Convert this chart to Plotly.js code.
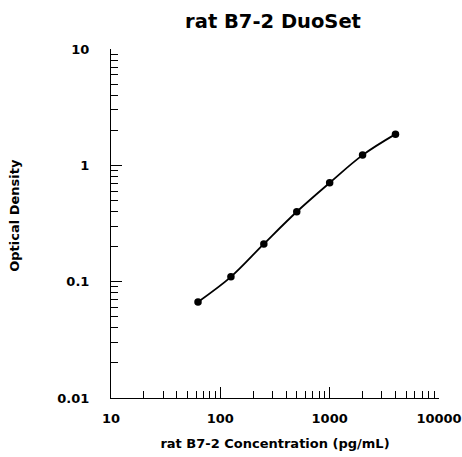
<!DOCTYPE html>
<html>
<head>
<meta charset="utf-8">
<script src="https://cdn.plot.ly/plotly-3.0.1.min.js"></script>
<style>html,body{margin:0;padding:0;background:#fff;}#chart{width:462px;height:457px;}</style>
</head>
<body>
<div id="chart"></div>
<script>
const concentration = [62.5, 125, 250, 500, 1000, 2000, 4000];
const opticalDensity = [0.067, 0.110, 0.211, 0.399, 0.708, 1.224, 1.854];
const xTickVals = [10, 100, 1000, 10000];
const xTickText = ['10', '100', '1000', '10000'];
const yTickVals = [0.01, 0.1, 1, 10];
const yTickText = ['0.01', '0.1', '1', '10'];

const font = {family: 'DejaVu Sans, Liberation Sans, Arial, sans-serif', color: '#000', weight: 'bold'};

const trace = {
  x: concentration,
  y: opticalDensity,
  mode: 'lines+markers',
  line: {shape: 'spline', smoothing: 1, color: '#000', width: 1.8},
  marker: {size: 7.5, color: '#000'},
  hoverinfo: 'x+y'
};

const layout = {
  width: 462, height: 457,
  margin: {l: 111, r: 23, t: 49, b: 58.5},
  paper_bgcolor: '#fff', plot_bgcolor: '#fff',
  showlegend: false,
  title: {text: 'rat B7-2 DuoSet', xref: 'paper', x: 0.494, xanchor: 'center', y: 0.954, yanchor: 'middle',
          font: Object.assign({}, font, {size: 19.5})},
  xaxis: {
    type: 'log', range: [1, 4],
    tickvals: xTickVals, ticktext: xTickText,
    ticks: 'inside', ticklen: 11, tickwidth: 1, tickcolor: '#000',
    showline: true, linecolor: '#000', linewidth: 1,
    showgrid: false, zeroline: false,
    ticklabelstandoff: 8,
    tickfont: Object.assign({}, font, {size: 13}),
    minor: {ticks: 'inside', ticklen: 7, tickwidth: 1, tickcolor: '#000', dtick: 'D1', showgrid: false},
    title: {text: 'rat B7-2 Concentration (pg/mL)', standoff: 14, font: Object.assign({}, font, {size: 13})}
  },
  yaxis: {
    type: 'log', range: [-2, 1],
    tickvals: yTickVals, ticktext: yTickText,
    ticks: 'inside', ticklen: 11, tickwidth: 1, tickcolor: '#000',
    showline: true, linecolor: '#000', linewidth: 1,
    showgrid: false, zeroline: false,
    ticklabelstandoff: 18,
    tickfont: Object.assign({}, font, {size: 13}),
    minor: {ticks: 'inside', ticklen: 7, tickwidth: 1, tickcolor: '#000', dtick: 'D1', showgrid: false}
  },
  annotations: [{
    text: 'Optical Density', textangle: -90, showarrow: false,
    xref: 'paper', yref: 'paper', x: -0.2927, y: 0.525, xanchor: 'center', yanchor: 'middle',
    font: Object.assign({}, font, {size: 13})
  }]
};

Plotly.newPlot('chart', [trace], layout, {displayModeBar: false, staticPlot: true});
</script>
</body>
</html>
